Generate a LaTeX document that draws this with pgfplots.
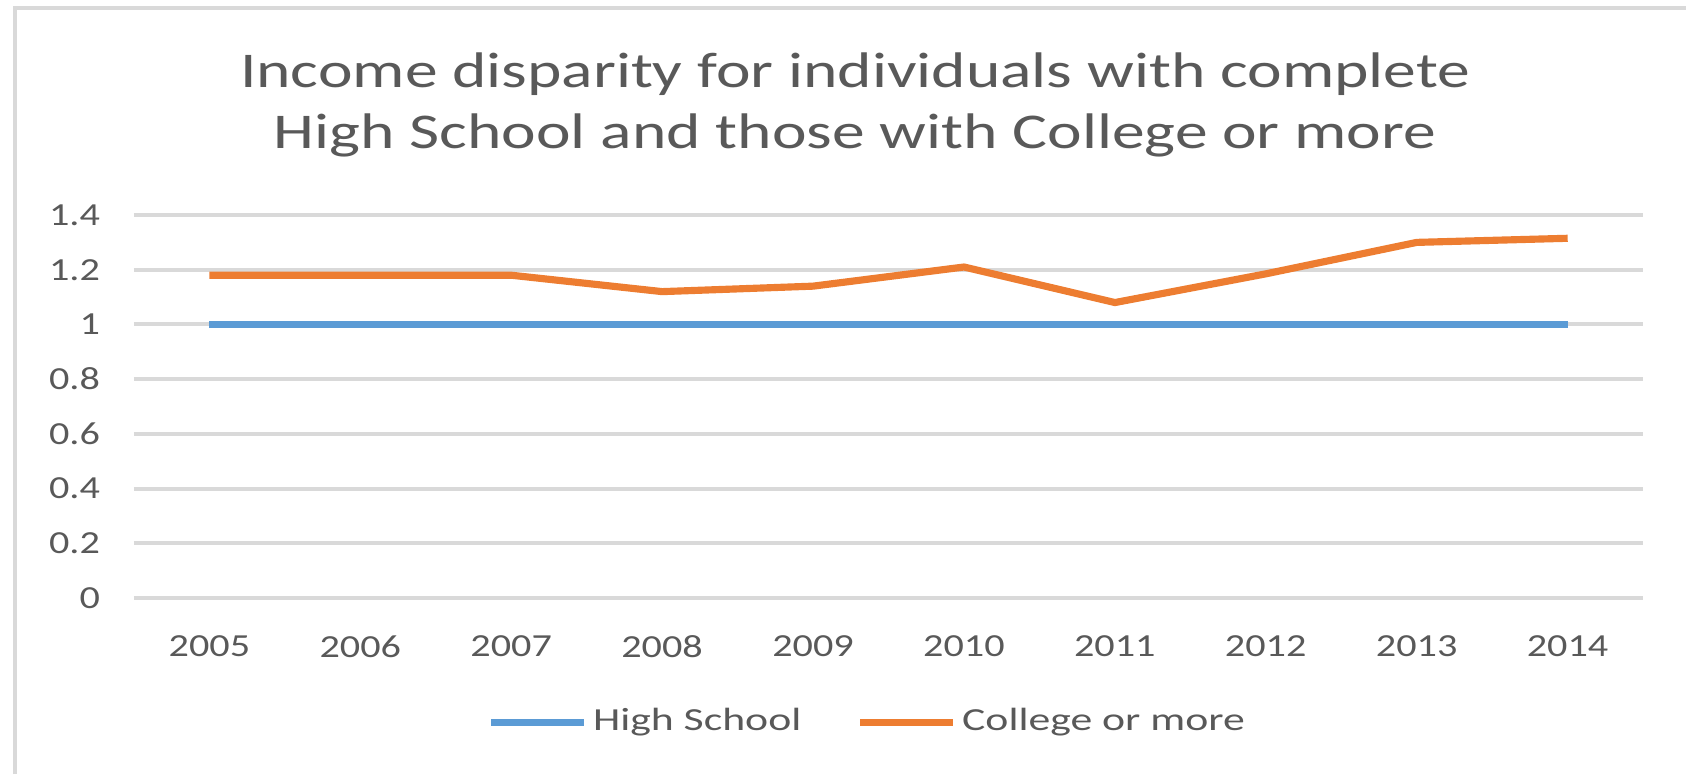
\documentclass[border=0pt]{standalone}
\usepackage{fontspec}
\setmainfont{Carlito}[FakeStretch=1.25]
\newfontfamily\titlefont{Carlito}[FakeStretch=1.31]
\newfontfamily\legfont{Carlito}[FakeStretch=1.36]
\usepackage{pgfplots}
\pgfplotsset{compat=1.18}
\definecolor{hsblue}{HTML}{5B9BD5}
\definecolor{colorange}{HTML}{ED7D31}
\definecolor{gridgray}{HTML}{D9D9D9}
\definecolor{txtgray}{HTML}{595959}
\begin{document}
\begin{tikzpicture}
\path[use as bounding box] (0pt,0pt) rectangle (472pt,216.7pt);
\draw[gridgray, line width=1.1pt] (4.1pt,0pt) -- (4.1pt,214.5pt) -- (472pt,214.5pt);
\begin{axis}[
  scale only axis,
  width=422.5pt, height=107.2pt,
  at={(37.5pt,49.3pt)}, anchor=south west,
  xmin=2004.5, xmax=2014.5,
  ymin=0, ymax=1.4,
  xtick={2005,...,2014},
  ytick={0,0.2,...,1.4},
  yticklabels={0,0.2,0.4,0.6,0.8,1,1.2,1.4},
  xticklabels={2005,2006,2007,2008,2009,2010,2011,2012,2013,2014},
  axis line style={draw=none},
  major tick length=0pt,
  ymajorgrids,
  grid style={gridgray, line width=1.1pt},
  ticklabel style={font=\fontsize{9}{11}\selectfont, text=txtgray},
  /pgf/number format/assume math mode=true,
  xticklabel style={yshift=-7pt},
  yticklabel style={xshift=-6pt},
  legend style={at={(0.487,-0.325)}, anchor=center, draw=none, fill=none,
    font=\legfont\fontsize{9}{11}\selectfont, text=txtgray, legend columns=2,
    inner sep=0pt, nodes={inner xsep=1.5pt},
    /tikz/every even column/.append style={column sep=14pt}},
  legend cell align=left,
  legend image code/.code={\draw[#1] (0pt,0pt) -- (26pt,0pt);},
  clip=false,
]
\addplot[hsblue, line width=2pt] coordinates {
(2005,1) (2006,1) (2007,1) (2008,1) (2009,1) (2010,1) (2011,1) (2012,1) (2013,1) (2014,1)};
\addlegendentry{High School}
\addplot[colorange, line width=2pt, line join=round] coordinates {
(2005,1.18) (2006,1.18) (2007,1.18) (2008,1.12) (2009,1.14) (2010,1.21) (2011,1.08) (2012,1.185) (2013,1.30) (2014,1.315)};
\addlegendentry{College or more}
\end{axis}
\node[align=center, text=txtgray, font=\titlefont\fontsize{14}{17.1}\selectfont] at (239.4pt,187.4pt) {Income disparity for individuals with complete\\High School and those with College or more};
\end{tikzpicture}
\end{document}
